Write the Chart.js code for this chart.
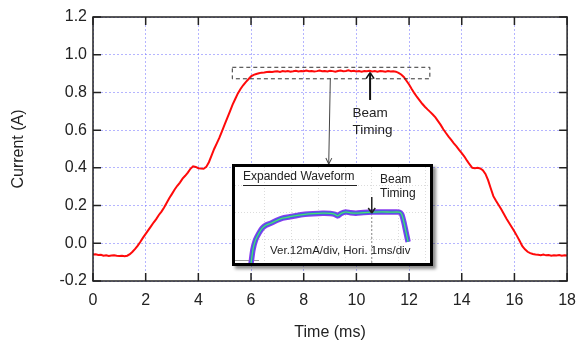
<!DOCTYPE html>
<html><head><meta charset="utf-8">
<script src="https://cdn.jsdelivr.net/npm/chart.js@4.4.1/dist/chart.umd.min.js"></script>
<style>
html,body{margin:0;padding:0;background:#fff;}
#wrap{position:relative;width:586px;height:344px;overflow:hidden;}
#main{position:absolute;left:0;top:0;}
#inset{position:absolute;left:232px;top:164px;width:201px;height:102px;box-sizing:border-box;border:3px solid #000;background:#fff;box-shadow:3px 3px 3px rgba(0,0,0,0.45);}
#insetCanvas{display:block;}
</style></head><body>
<div id="wrap"><canvas id="main" width="586" height="344"></canvas>
<div id="inset"><canvas id="insetCanvas" width="195" height="96"></canvas></div></div>
<script>
// ---- main waveform data ----
const timeMs = [0.0,0.1,0.2,0.3,0.4,0.5,0.6,0.7,0.8,0.9,1.0,1.1,1.2,1.3,1.4,1.5,1.6,1.7,1.8,1.9,
2.0,2.1,2.2,2.3,2.4,2.5,2.6,2.7,2.8,2.9,3.0,3.1,3.2,3.3,3.4,3.5,3.6,3.7,3.8,3.9,
4.0,4.1,4.2,4.3,4.4,4.5,4.6,4.7,4.8,4.9,5.0,5.1,5.2,5.3,5.4,5.5,5.6,5.7,5.8,5.9,
6.0,6.1,6.2,6.3,6.4,6.5,6.6,6.7,6.8,6.9,7.0,7.1,7.2,7.3,7.4,7.5,7.6,7.7,7.8,7.9,
8.0,8.1,8.2,8.3,8.4,8.5,8.6,8.7,8.8,8.9,9.0,9.1,9.2,9.3,9.4,9.5,9.6,9.7,9.8,9.9,
10.0,10.1,10.2,10.3,10.4,10.5,10.6,10.7,10.8,10.9,11.0,11.1,11.2,11.3,11.4,11.5,11.6,11.7,11.8,11.9,
12.0,12.1,12.2,12.3,12.4,12.5,12.6,12.7,12.8,12.9,13.0,13.1,13.2,13.3,13.4,13.5,13.6,13.7,13.8,13.9,
14.0,14.1,14.2,14.3,14.4,14.5,14.6,14.7,14.8,14.9,15.0,15.1,15.2,15.3,15.4,15.5,15.6,15.7,15.8,15.9,
16.0,16.1,16.2,16.3,16.4,16.5,16.6,16.7,16.8,16.9,17.0,17.1,17.2,17.3,17.4,17.5,17.6,17.7,17.8,17.9,18.0];
const currentA = [-0.060,-0.058,-0.062,-0.061,-0.066,-0.064,-0.067,-0.065,-0.063,-0.066,-0.068,-0.066,-0.069,-0.066,-0.058,-0.045,-0.030,-0.012,0.008,0.030,
0.050,0.070,0.090,0.110,0.128,0.150,0.168,0.190,0.215,0.240,0.262,0.285,0.305,0.322,0.343,0.358,0.375,0.395,0.408,0.405,
0.398,0.396,0.395,0.405,0.430,0.465,0.500,0.530,0.560,0.595,0.630,0.665,0.700,0.735,0.765,0.795,0.818,0.838,0.855,0.870,
0.885,0.893,0.898,0.902,0.905,0.906,0.908,0.910,0.908,0.911,0.912,0.909,0.913,0.911,0.914,0.910,0.912,0.915,0.911,0.913,
0.912,0.916,0.912,0.914,0.911,0.913,0.916,0.912,0.914,0.911,0.915,0.913,0.910,0.914,0.916,0.912,0.914,0.917,0.913,0.915,
0.911,0.913,0.910,0.914,0.912,0.915,0.911,0.913,0.910,0.914,0.912,0.910,0.913,0.911,0.912,0.910,0.904,0.895,0.882,0.862,
0.842,0.818,0.796,0.776,0.758,0.740,0.724,0.710,0.697,0.683,0.668,0.648,0.628,0.605,0.585,0.566,0.548,0.530,0.514,0.495,
0.478,0.460,0.438,0.418,0.400,0.398,0.400,0.397,0.388,0.368,0.335,0.292,0.250,0.225,0.203,0.180,0.155,0.130,0.108,0.085,
0.062,0.038,0.012,-0.015,-0.032,-0.045,-0.052,-0.057,-0.060,-0.061,-0.063,-0.060,-0.064,-0.062,-0.066,-0.063,-0.065,-0.062,-0.066,-0.064,-0.065];
const xTickValues = [0,2,4,6,8,10,12,14,16,18];
const yTickValues = [-0.2,0.0,0.2,0.4,0.6,0.8,1.0,1.2];

// ---- inset (expanded waveform) data ----
const insetT = [-0.52,-0.45,-0.35,-0.22,-0.1,0.05,0.22,0.45,0.66,0.9,1.16,1.5,1.8,2.16,2.45,2.62,2.72,2.85,3.03,3.2,3.41,3.7,4.03,4.4,4.7,5.03,5.12,5.2,5.28,5.36];
const insetMA = [-11,-4.8,-0.3,2.8,5.0,6.4,7.2,8.5,9.5,10.0,10.6,11.2,11.5,11.7,11.6,11.2,10.5,11.6,12.3,11.9,11.7,12.0,12.2,12.3,12.2,12.2,11.2,7.8,3.3,-1.2];
const insetGridT = [0,1,2,3,4,5,6];
const insetGridMA = [0,12,24];
const beamTimingInsetT = 4;

// ---- annotation geometry (in data units) ----
const ann = {
  box: {x0:5.27, x1:12.77, y0:0.875, y1:0.936},
  beamX: 10.52, beamY0: 0.76, beamY1: 0.905,
  textX: 9.85, textY1: 0.691, textY2: 0.601,
  connX0: 9.01, connY0: 0.875, connX1: 8.95, connY1: 0.42
};

function arrowHead(ctx, x, y, ang, len, wid){
  ctx.save();ctx.translate(x,y);ctx.rotate(ang);
  ctx.beginPath();ctx.moveTo(0,0);ctx.lineTo(-len,-wid);ctx.moveTo(0,0);ctx.lineTo(-len,wid);ctx.stroke();
  ctx.restore();
}
const FONT = '"Liberation Sans", Arial, sans-serif';

const annPlugin = {
  id:'ann',
  afterDatasetsDraw(chart){
    const {ctx, scales:{x,y}} = chart;
    ctx.save();
    ctx.strokeStyle='#333';ctx.lineWidth=1;ctx.setLineDash([4,3]);
    const bx0=x.getPixelForValue(ann.box.x0), bx1=x.getPixelForValue(ann.box.x1);
    const by0=y.getPixelForValue(ann.box.y1), by1=y.getPixelForValue(ann.box.y0);
    ctx.strokeRect(bx0+0.5,by0+0.5,bx1-bx0,by1-by0);
    ctx.setLineDash([]);
    ctx.strokeStyle='#444';ctx.lineWidth=1;
    const cx0=x.getPixelForValue(ann.connX0), cy0=y.getPixelForValue(ann.connY0);
    const cx1=x.getPixelForValue(ann.connX1), cy1=y.getPixelForValue(ann.connY1);
    ctx.beginPath();ctx.moveTo(cx0,cy0);ctx.lineTo(cx1,cy1);ctx.stroke();
    arrowHead(ctx,cx1,cy1,Math.atan2(cy1-cy0,cx1-cx0),6,3);
    ctx.strokeStyle='#111';ctx.lineWidth=2;
    const ax=x.getPixelForValue(ann.beamX), ay0=y.getPixelForValue(ann.beamY0), ay1=y.getPixelForValue(ann.beamY1);
    ctx.beginPath();ctx.moveTo(ax,ay0);ctx.lineTo(ax,ay1);ctx.stroke();
    ctx.lineWidth=1.6;
    arrowHead(ctx,ax,ay1,-Math.PI/2,6,4);
    ctx.fillStyle='#222';ctx.font='13.5px '+FONT;
    ctx.textAlign='left';ctx.textBaseline='middle';
    const tx=x.getPixelForValue(ann.textX);
    ctx.fillText('Beam',tx,y.getPixelForValue(ann.textY1));
    ctx.fillText('Timing',tx,y.getPixelForValue(ann.textY2));
    ctx.restore();
  },
  afterDraw(chart){
    const {ctx, chartArea:a, scales:{x,y}} = chart;
    ctx.save();
    ctx.strokeStyle='#222';ctx.lineWidth=1.5;
    ctx.strokeRect(a.left,a.top,a.right-a.left,a.bottom-a.top);
    const L=8;
    ctx.beginPath();
    xTickValues.forEach(v=>{const px=x.getPixelForValue(v);ctx.moveTo(px,a.bottom);ctx.lineTo(px,a.bottom-L);ctx.moveTo(px,a.top);ctx.lineTo(px,a.top+L);});
    yTickValues.forEach(v=>{const py=y.getPixelForValue(v);ctx.moveTo(a.left,py);ctx.lineTo(a.left+L,py);ctx.moveTo(a.right,py);ctx.lineTo(a.right-L,py);});
    ctx.stroke();
    ctx.restore();
  }
};

new Chart(document.getElementById('main'), {
  type:'line',
  data:{datasets:[{data:timeMs.map((t,i)=>({x:t,y:currentA[i]})),borderColor:'#ff0a0a',borderWidth:2,pointRadius:0,tension:0,fill:false}]},
  options:{
    responsive:false,animation:false,
    layout:{padding:{top:17,right:11,left:0,bottom:0}},
    plugins:{legend:{display:false},tooltip:{enabled:false}},
    scales:{
      x:{type:'linear',min:0,max:18,
        afterBuildTicks:s=>{s.ticks=xTickValues.map(v=>({value:v}));},
        afterFit:s=>{s.height=63;},
        ticks:{font:{family:FONT,size:16},color:'#222',padding:10,maxRotation:0,callback:v=>String(v)},
        grid:{color:'rgba(120,120,255,0.55)',lineWidth:1,drawTicks:false},
        border:{display:false,dash:[2,2]},
        title:{display:true,text:'Time (ms)',font:{family:FONT,size:16},color:'#222',padding:{top:0,bottom:1.5}}
      },
      y:{type:'linear',min:-0.2,max:1.2,
        afterBuildTicks:s=>{s.ticks=yTickValues.map(v=>({value:v}));},
        afterFit:s=>{s.width=93;},
        ticks:{font:{family:FONT,size:16},color:'#222',padding:6,callback:v=>Number(v).toFixed(1)},
        grid:{color:'rgba(120,120,255,0.55)',lineWidth:1,drawTicks:false},
        border:{display:false,dash:[2,2]},
        title:{display:true,text:'Current (A)',font:{family:FONT,size:16},color:'#222',padding:{top:8.5,bottom:0}}
      }
    }
  },
  plugins:[annPlugin]
});

// ---- inset chart ----
const insetPlugin = {
  id:'insetAnn',
  beforeDatasetsDraw(chart){
    const {ctx, chartArea:a, scales:{x}} = chart;
    const bx=x.getPixelForValue(beamTimingInsetT);
    ctx.save();ctx.strokeStyle='#888';ctx.lineWidth=1;ctx.setLineDash([2,2]);
    ctx.beginPath();ctx.moveTo(bx,46);ctx.lineTo(bx,a.bottom);ctx.stroke();
    ctx.setLineDash([]);ctx.strokeStyle='#999';
    ctx.beginPath();ctx.moveTo(0,93.5);ctx.lineTo(24,93.5);ctx.stroke();
    ctx.restore();
  },
  afterDatasetsDraw(chart){
    const {ctx, scales:{x}} = chart;
    ctx.save();
    ctx.fillStyle='#222';ctx.textBaseline='middle';ctx.textAlign='left';
    ctx.font='12px '+FONT;
    ctx.fillText('Expanded Waveform',8,10);
    ctx.strokeStyle='#222';ctx.lineWidth=1;
    ctx.beginPath();ctx.moveTo(8,18.5);ctx.lineTo(122,18.5);ctx.stroke();
    ctx.fillText('Beam',145,13);
    ctx.fillText('Timing',145,27);
    const bx=x.getPixelForValue(beamTimingInsetT);
    ctx.lineWidth=1.5;
    ctx.beginPath();ctx.moveTo(bx,30);ctx.lineTo(bx,46);ctx.stroke();
    arrowHead(ctx,bx,46,Math.PI/2,5,3.5);
    ctx.font='11.5px '+FONT;
    ctx.fillText('Ver.12mA/div, Hori. 1ms/div',35,84);
    ctx.restore();
  }
};
const mkPts = () => insetT.map((t,i)=>({x:t,y:insetMA[i]}));
new Chart(document.getElementById('insetCanvas'), {
  type:'line',
  data:{datasets:[
    {data:mkPts(),borderColor:'#48e070',borderWidth:1.3,pointRadius:0,tension:0.2,order:1},
    {data:mkPts(),borderColor:'#3d62e0',borderWidth:3.2,pointRadius:0,tension:0.2,order:2},
    {data:mkPts(),borderColor:'#8a3cf0',borderWidth:5.5,pointRadius:0,tension:0.2,order:3}
  ]},
  options:{
    responsive:false,animation:false,
    layout:{padding:0},
    plugins:{legend:{display:false},tooltip:{enabled:false}},
    scales:{
      x:{type:'linear',min:-1.12,max:6.18,
        afterBuildTicks:s=>{s.ticks=insetGridT.map(v=>({value:v}));},
        afterFit:s=>{s.height=0;},
        ticks:{display:false},grid:{color:'#dcdcdc',drawTicks:false},border:{display:false,dash:[1,2]}},
      y:{type:'linear',min:-10.7,max:32.5,
        afterBuildTicks:s=>{s.ticks=insetGridMA.map(v=>({value:v}));},
        afterFit:s=>{s.width=0;},
        ticks:{display:false},grid:{color:'#dcdcdc',drawTicks:false},border:{display:false,dash:[1,2]}}
    }
  },
  plugins:[insetPlugin]
});
</script></body></html>
